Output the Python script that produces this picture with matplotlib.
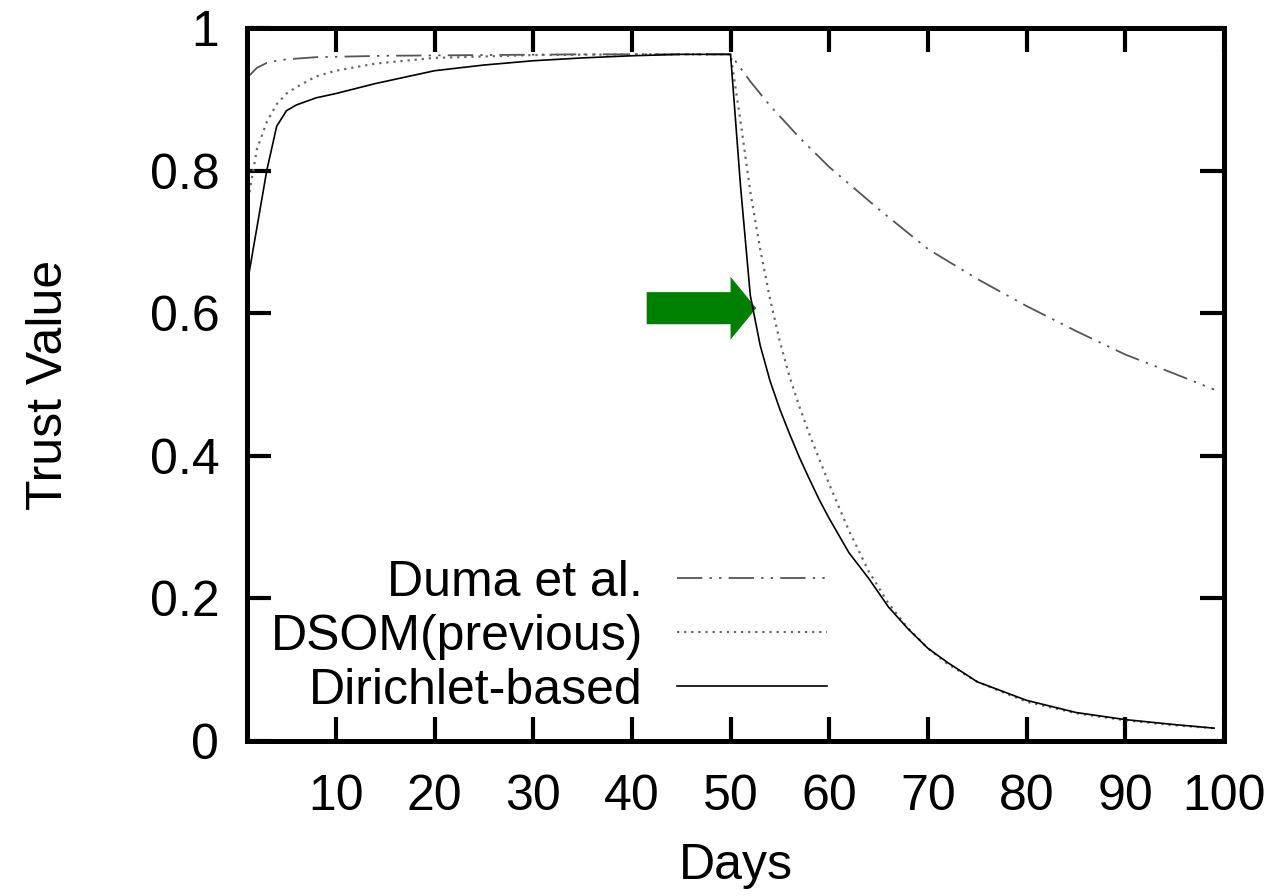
# Trust value over days: Duma et al. vs DSOM vs Dirichlet-based
import matplotlib.pyplot as plt
import numpy as np

plt.rcParams['font.family'] = ['Liberation Sans', 'DejaVu Sans']

# data
days_duma = [1, 2, 3, 4, 5, 8, 15, 25, 35, 45, 50,
             52, 54, 57, 60, 65, 70, 75, 80, 85, 90, 95, 99]
duma = [0.93, 0.944, 0.951, 0.954, 0.956, 0.959, 0.961, 0.962, 0.963, 0.963, 0.963,
        0.925, 0.891, 0.846, 0.805, 0.746, 0.69, 0.648, 0.61, 0.575, 0.542, 0.515, 0.493]

days_dsom = [1, 2, 3, 4, 5, 6, 8, 10, 14, 20, 30, 40, 50,
             51, 52, 53, 54, 55, 56, 57, 58, 59, 60, 62, 64, 66, 68, 70,
             72, 75, 80, 85, 90, 95, 99]
dsom = [0.75, 0.83, 0.868, 0.893, 0.908, 0.917, 0.932, 0.94, 0.95, 0.958, 0.962, 0.963, 0.963,
        0.87, 0.77, 0.69, 0.62, 0.56, 0.51, 0.468, 0.43, 0.395, 0.36, 0.295, 0.238, 0.193, 0.158, 0.13,
        0.108, 0.083, 0.055, 0.039, 0.029, 0.022, 0.018]

days_dir = [1, 2, 3, 4, 5, 6, 8, 10, 14, 20, 25, 30, 35, 40, 45, 50,
            51, 52, 53, 54, 55, 56, 57, 58, 59, 60, 62, 64, 66, 68, 70,
            72, 75, 80, 85, 90, 95, 99]
dirichlet = [0.64, 0.72, 0.80, 0.862, 0.884, 0.892, 0.902, 0.908, 0.922, 0.94, 0.948, 0.954, 0.958, 0.961, 0.963, 0.963,
             0.78, 0.625, 0.555, 0.505, 0.465, 0.43, 0.397, 0.367, 0.338, 0.312, 0.264, 0.228, 0.188, 0.157, 0.13,
             0.11, 0.083, 0.057, 0.04, 0.03, 0.023, 0.018]

labels = ['Duma et al.', 'DSOM(previous)', 'Dirichlet-based']
xticks = [10, 20, 30, 40, 50, 60, 70, 80, 90, 100]
yticks = [0, 0.2, 0.4, 0.6, 0.8, 1]
ytick_labels = ['0', '0.2', '0.4', '0.6', '0.8', '1']

fig = plt.figure(figsize=(12.76, 8.96), dpi=100)
ax = fig.add_axes([0.1936, 0.173, 0.7656, 0.7958])

ax.plot(days_duma, duma, color='#555555', lw=1.3,
        linestyle=(0, (14, 4, 1.3, 4, 1.3, 4)), label=labels[0])
ax.plot(days_dsom, dsom, color='#666666', lw=1.6,
        linestyle=(0, (1, 2.2)), label=labels[1])
ax.plot(days_dir, dirichlet, color='black', lw=1.2, label=labels[2])

# green arrow pointing at the drop
ax.arrow(41.5, 0.607, 11.1, 0, width=0.045, head_width=0.088,
         head_length=2.6, length_includes_head=True,
         color='#008000', lw=0)

ax.set_xlim(1, 100)
ax.set_ylim(0, 1)
ax.set_xticks(xticks)
ax.set_yticks(yticks)
ax.set_yticklabels(ytick_labels)
ax.tick_params(direction='in', length=17, width=3, top=True, right=True,
               labelsize=36, pad=20)
ax.tick_params(axis='x', pad=24)
for s in ax.spines.values():
    s.set_linewidth(3.6)

ax.set_xlabel('Days', fontsize=36, labelpad=16)
ax.set_ylabel('Trust Value', fontsize=36, labelpad=56)

leg = ax.legend(loc='lower right', bbox_to_anchor=(0.609, 0.017), frameon=False,
                markerfirst=False, fontsize=36, handlelength=3.0,
                handletextpad=0.68, labelspacing=0.16, borderpad=0.3,
                borderaxespad=0)
leg._legend_box.align = 'right'

fig.savefig('out.png', dpi=100)
